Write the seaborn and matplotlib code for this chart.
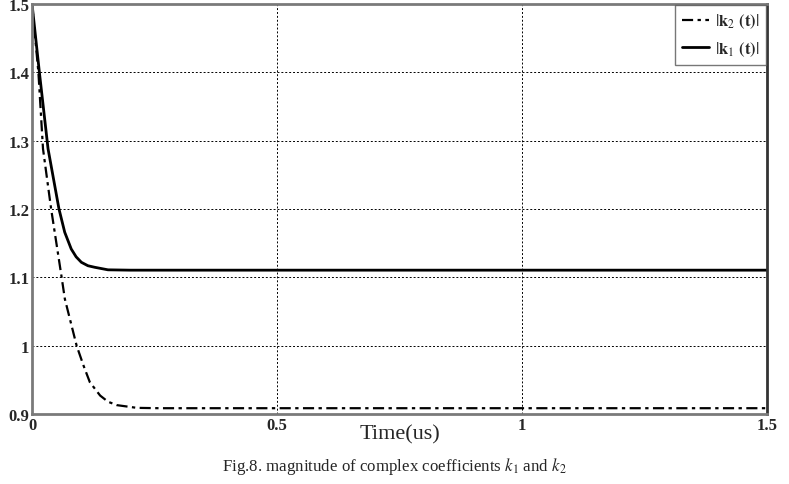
import matplotlib
matplotlib.use('Agg')
import matplotlib.pyplot as plt
import seaborn as sns
import pandas as pd

# valores
t_k1 = [0, 0.015, 0.0327, 0.055, 0.0667, 0.080, 0.090, 0.1007, 0.114, 0.128,
        0.155, 0.2, 1.5]
k1 = [1.5, 1.4, 1.288, 1.2, 1.166, 1.1415, 1.13, 1.122, 1.117, 1.1147,
      1.111, 1.1105, 1.1105]

t_k2 = [0, 0.013, 0.0224, 0.039, 0.06, 0.067, 0.091, 0.105, 0.118, 0.139,
        0.155, 0.173, 0.214, 0.26, 1.5]
k2 = [1.5, 1.4, 1.288, 1.2, 1.102, 1.0683, 1.0, 0.971, 0.9465, 0.927,
      0.918, 0.913, 0.909, 0.9085, 0.9085]

x_ticks = [0, 0.5, 1, 1.5]
x_tick_labels = ['0', '0.5', '1', '1.5']
y_ticks = [0.9, 1, 1.1, 1.2, 1.3, 1.4, 1.5]
y_tick_labels = ['0.9', '1', '1.1', '1.2', '1.3', '1.4', '1.5']

sns.set_style('white')
plt.rcParams['font.family'] = ['Liberation Serif', 'DejaVu Serif']
plt.rcParams['mathtext.fontset'] = 'stix'

df1 = pd.DataFrame({'t': t_k1, 'v': k1})
df2 = pd.DataFrame({'t': t_k2, 'v': k2})

fig = plt.figure(figsize=(7.89, 4.85), dpi=100)
ax = fig.add_axes([0.0406, 0.1443, 0.9316, 0.8454])

sns.lineplot(data=df2, x='t', y='v', ax=ax, color='black', linewidth=1.6,
             estimator=None, sort=False, label=r'$|\mathbf{k}_2\ \mathbf{(t)}|$')
sns.lineplot(data=df1, x='t', y='v', ax=ax, color='black', linewidth=2.0,
             estimator=None, sort=False, label=r'$|\mathbf{k}_1\ \mathbf{(t)}|$')
ax.lines[0].set_dashes([5, 2, 1.5, 2])
for ln in ax.lines:
    ln.set_solid_joinstyle('round')

ax.set_xlim(0, 1.5)
ax.set_ylim(0.9, 1.5)
ax.set_xticks(x_ticks)
ax.set_xticklabels(x_tick_labels, fontsize=12, fontweight='bold')
ax.set_yticks(y_ticks)
ax.set_yticklabels(y_tick_labels, fontsize=12, fontweight='bold')
ax.tick_params(axis='both', length=0, pad=2)
ax.grid(True, color='black', linestyle=(0, (2, 2)), linewidth=0.7)

for s in ax.spines.values():
    s.set_color('#7a7a7a')
    s.set_linewidth(2)
ax.spines['right'].set_color('#333333')

ax.set_xlabel('Time(us)', fontsize=16, labelpad=-6)
ax.set_ylabel('')

leg = ax.legend(loc='upper right', fontsize=12, frameon=True, fancybox=False,
                borderaxespad=0.05, handlelength=1.6, handletextpad=0.4,
                labelspacing=0.55)
leg.get_frame().set_edgecolor('#555555')
leg.get_frame().set_linewidth(1)

fig.text(0.5, 0.028, r'Fig.8. magnitude of complex coefficients $k_1$ and $k_2$',
         ha='center', fontsize=12.2)

fig.savefig('out.png', dpi=100)
